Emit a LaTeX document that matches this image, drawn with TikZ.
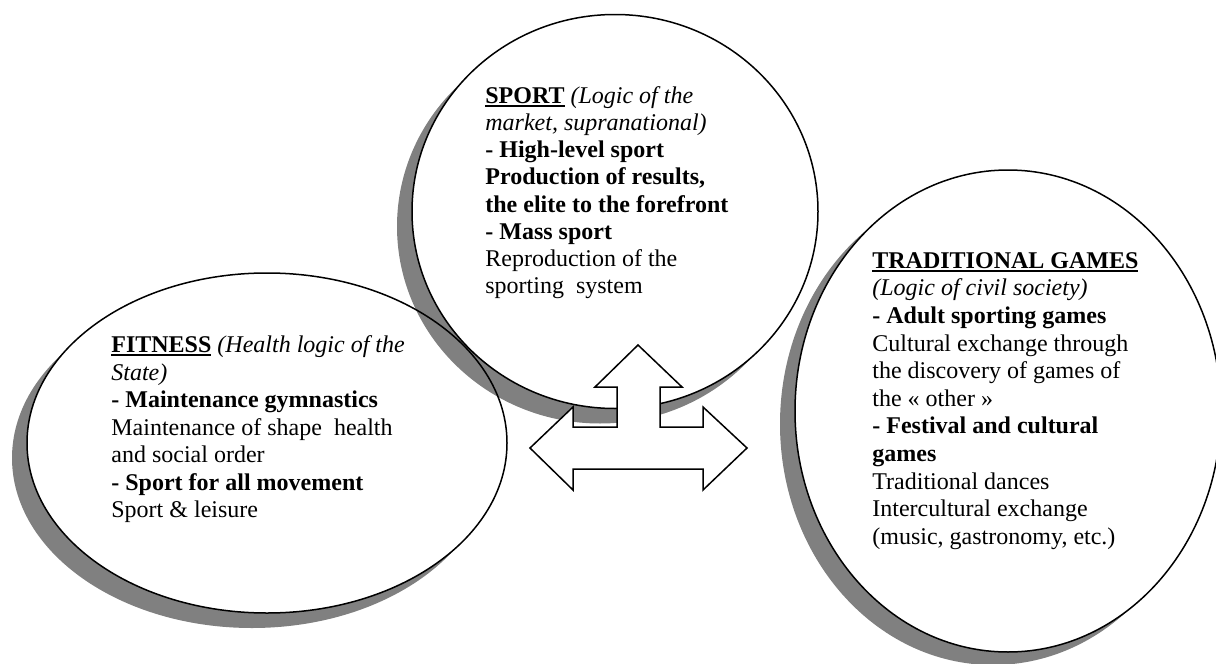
\documentclass[tikz,border=0pt]{standalone}
\usepackage{fontspec}
\setmainfont{Liberation Serif}
\definecolor{shadowgray}{RGB}{128,128,128}
\newcommand\myul[1]{\setbox0\hbox{#1}\rlap{\rule[-1.7pt]{\wd0}{0.85pt}}\box0\relax}
\tikzset{
  bubble/.style={draw=black, line width=0.75pt},
  shade/.style={fill=shadowgray},
  txt/.style={anchor=base west, inner sep=0pt},
  arrowshape/.style={draw=black, fill=white, line width=0.75pt, line join=miter}
}
\begin{document}
\begin{tikzpicture}[x=0.5pt,y=-0.5pt]
\useasboundingbox (0,0) rectangle (1216,664);
\coordinate (cS) at (615,211.5);
\coordinate (cF) at (267,443);
\coordinate (cT) at (1008,411);
% shadows and fills
\fill[shade] ([shift={(-15,15)}]cF) ellipse [x radius=120pt, y radius=85pt];
\fill[white] (cF) ellipse [x radius=120pt, y radius=85pt];
\fill[shade] ([shift={(-15,15)}]cS) ellipse [x radius=101.5pt, y radius=98.5pt];
\fill[white] (cS) ellipse [x radius=101.5pt, y radius=98.5pt];
\fill[shade] ([shift={(-15,13)}]cT) ellipse [x radius=106.5pt, y radius=120.5pt];
\fill[white] (cT) ellipse [x radius=106.5pt, y radius=120.5pt];
% outlines
\draw[bubble] (cF) ellipse [x radius=120pt, y radius=85pt];
\draw[bubble] (cS) ellipse [x radius=101.5pt, y radius=98.5pt];
\draw[bubble] (cT) ellipse [x radius=106.5pt, y radius=120.5pt];
% three-way arrow
\draw[arrowshape] (638,345) -- (682,387) -- (660,387) -- (660,427) -- (703,427)
  -- (703,407) -- (747,448) -- (703,490) -- (703,469) -- (573,469) -- (573,490)
  -- (530,448) -- (573,407) -- (573,427) -- (617,427) -- (617,387) -- (595,387) -- cycle;
% texts
\node[txt, font=\fontsize{12}{13.6}\selectfont] (sporttxt) at (485,103.3)
 {\begin{tabular}[t]{@{}l@{}}
  \myul{\textbf{SPORT}} \textit{(Logic of the}\\
  \textit{market, supranational)}\\
  \textbf{- High-level sport}\\
  \textbf{Production of results,}\\
  \textbf{the elite to the forefront}\\
  \textbf{- Mass sport}\\
  Reproduction of the\\
  sporting~ system
  \end{tabular}};
\node[txt, font=\fontsize{12}{13.75}\selectfont] (fittxt) at (111,352.7)
 {\begin{tabular}[t]{@{}l@{}}
  \myul{\textbf{FITNESS}} \textit{(Health logic of the}\\
  \textit{State)}\\
  \textbf{- Maintenance gymnastics}\\
  Maintenance of shape~ health\\
  and social order\\
  \textbf{- Sport for all movement}\\
  Sport \& leisure
  \end{tabular}};
\node[txt, font=\fontsize{12}{13.8}\selectfont] (tradtxt) at (872,268.3)
 {\begin{tabular}[t]{@{}l@{}}
  \myul{\textbf{TRADITIONAL GAMES}}\\
  \textit{(Logic of civil society)}\\
  \textbf{- Adult sporting games}\\
  Cultural exchange through\\
  the discovery of games of\\
  the « other »\\
  \textbf{- Festival and cultural}\\
  \textbf{games}\\
  Traditional dances\\
  Intercultural exchange\\
  (music, gastronomy, etc.)
  \end{tabular}};
\end{tikzpicture}
\end{document}
